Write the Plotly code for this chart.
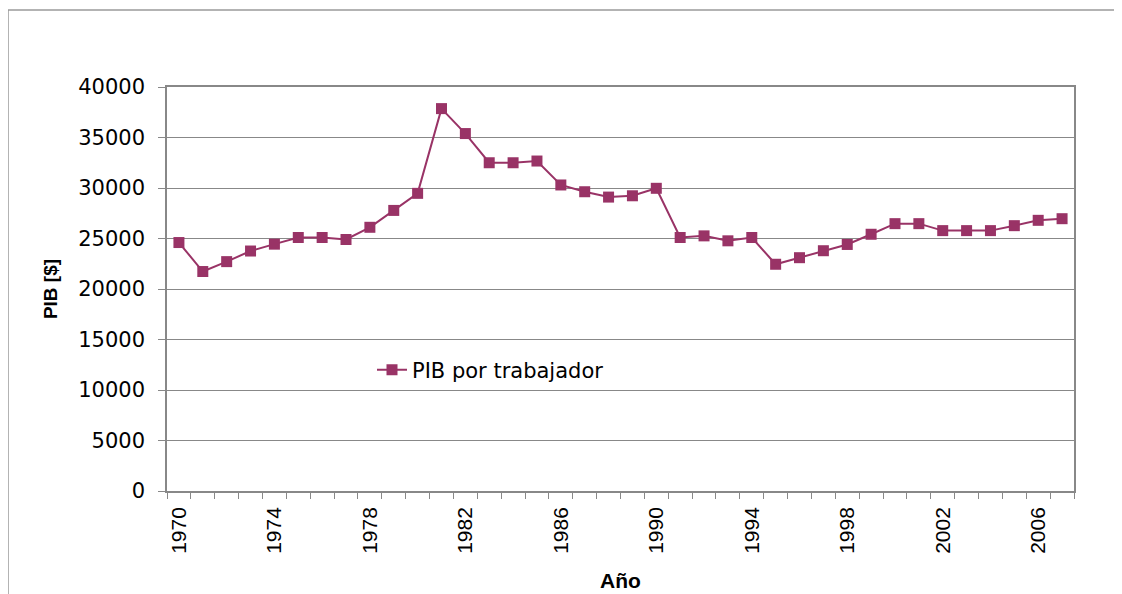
import plotly.graph_objects as go

years = list(range(1970, 2008))
pib = [24600, 21730, 22710, 23760, 24440, 25100, 25100, 24900, 26110, 27780,
       29470, 37860, 35390, 32500, 32500, 32670, 30300, 29630, 29100, 29230,
       29970, 25100, 25260, 24770, 25100, 22450, 23100, 23790, 24410, 25420,
       26470, 26470, 25780, 25780, 25780, 26270, 26800, 26960]
tick_years = list(range(1970, 2008, 4))
y_ticks = list(range(0, 40001, 5000))
series_name = "PIB por trabajador"

# page body has an 8px margin; work in window pixels and offset
OFF = 8
W, H = 1122 - OFF, 594 - OFF
L, R, T, B = 167 - OFF, 1074 - OFF, 87 - OFF, 491 - OFF
color = "#993366"
grid = "#888888"

fig = go.Figure()
fig.add_trace(go.Scatter(
    x=years, y=pib, mode="lines+markers", name=series_name,
    line=dict(color=color, width=2),
    marker=dict(symbol="square", size=11, color=color),
))

def px_x(p):  # window pixel -> paper
    return (p - OFF - L) / (R - L)

def px_y(p):
    return (B - (p - OFF)) / (B - T)

fig.update_layout(
    width=W, height=H,
    margin=dict(l=L, r=W - R, t=T, b=H - B, pad=0, autoexpand=False),
    paper_bgcolor="white", plot_bgcolor="white",
    showlegend=True,
    legend=dict(x=px_x(372), y=px_y(370), xanchor="left", yanchor="middle",
                bgcolor="rgba(0,0,0,0)",
                font=dict(family="DejaVu Sans", size=21, color="black")),
    xaxis=dict(
        automargin=False,
        range=[1969.5, 2007.5], tickmode="array", tickvals=tick_years,
        ticktext=[str(v) for v in tick_years], tickangle=-90,
        ticks="", showgrid=False, zeroline=False,
        showline=True, linecolor=grid, linewidth=1.5, mirror=True,
        tickfont=dict(family="Liberation Sans", size=21, color="black"),
        ticklabelstandoff=6,
        minor=dict(tick0=1969.5, dtick=1, ticks="outside", ticklen=6,
                   tickcolor=grid, tickwidth=1, showgrid=False),
        title=dict(text="<b>Año</b>", standoff=20,
                   font=dict(family="Liberation Sans", size=21, color="black")),
    ),
    yaxis=dict(
        automargin=False,
        range=[0, 40000], tickmode="array", tickvals=y_ticks,
        ticktext=[str(v) for v in y_ticks],
        ticks="outside", ticklen=7, tickcolor=grid,
        showgrid=True, gridcolor=grid, gridwidth=1, zeroline=False,
        showline=True, linecolor=grid, linewidth=1.5, mirror=True,
        tickfont=dict(family="DejaVu Sans", size=21, color="black"),
        ticklabelstandoff=9,
        title=dict(text="<b>PIB [$]</b>", standoff=16,
                   font=dict(family="Liberation Sans", size=19, color="black")),
    ),
    shapes=[dict(type="path", xref="paper", yref="paper",
                 path=f"M {px_x(8)} {px_y(620)} L {px_x(8)} {px_y(10)} L {px_x(1140)} {px_y(10)}",
                 line=dict(color="#9a9a9a", width=1.5))],
)

fig.write_html("out.html")
